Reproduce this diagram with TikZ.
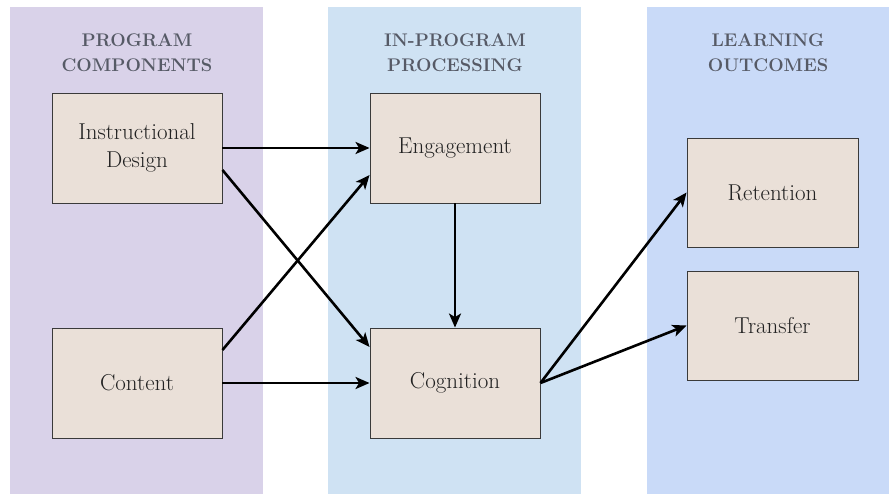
\documentclass[tikz,border=0pt]{standalone}
\usetikzlibrary{arrows.meta}
\definecolor{colA}{HTML}{D9D2E9}
\definecolor{colB}{HTML}{CFE2F3}
\definecolor{colC}{HTML}{C9DAF8}
\definecolor{boxfill}{HTML}{EAE0D8}
\definecolor{boxline}{HTML}{3A3A3A}
\definecolor{headgray}{HTML}{565A66}
\definecolor{boxtext}{HTML}{222222}
\begin{document}
\begin{tikzpicture}[x=1pt,y=-1pt,
  header/.style={align=center,text=headgray,font=\fontsize{18.3}{25}\selectfont\bfseries},
  box/.style={draw=boxline,line width=0.9pt,fill=boxfill,text=boxtext,minimum width=170pt,minimum height=110pt,align=center,inner sep=0pt,font=\fontsize{23}{28}\selectfont},
  conn/.style={line width=2.6pt,-{Stealth[length=14pt,width=12pt,inset=3.5pt]}}
]
\useasboundingbox (0,0) rectangle (889,494);
\fill[white] (0,0) rectangle (889,494);
\fill[colA] (10,7) rectangle (263,494);
\fill[colB] (328,7) rectangle (581,494);
\fill[colC] (647,7) rectangle (889,494);

\node[header] (h1) at (137,53) {PROGRAM\\COMPONENTS};
\node[header] (h2) at (455,53) {IN-PROGRAM\\PROCESSING};
\node[header] (h3) at (768,53) {LEARNING\\OUTCOMES};

\node[box] (id) at (137,148) {Instructional\\Design};
\node[box] (con) at (137,383) {Content};
\node[box] (eng) at (455,148) {Engagement};
\node[box] (cog) at (455,383) {Cognition};
\node[box,minimum width=171pt,minimum height=109pt] (ret) at (772.5,192.5) {Retention};
\node[box,minimum width=171pt,minimum height=109pt] (tra) at (772.5,325.5) {Transfer};

\draw[conn] (id.east) -- (eng.west);
\draw[conn] ([yshift=-22pt]id.east) -- ([yshift=36pt]cog.west);
\draw[conn] ([yshift=33pt]con.east) -- ([yshift=-27pt]eng.west);
\draw[conn] (con.east) -- (cog.west);
\draw[conn] (eng.south) -- (cog.north);
\draw[conn] (cog.east) -- (ret.west);
\draw[conn] (cog.east) -- (tra.west);
\end{tikzpicture}
\end{document}
